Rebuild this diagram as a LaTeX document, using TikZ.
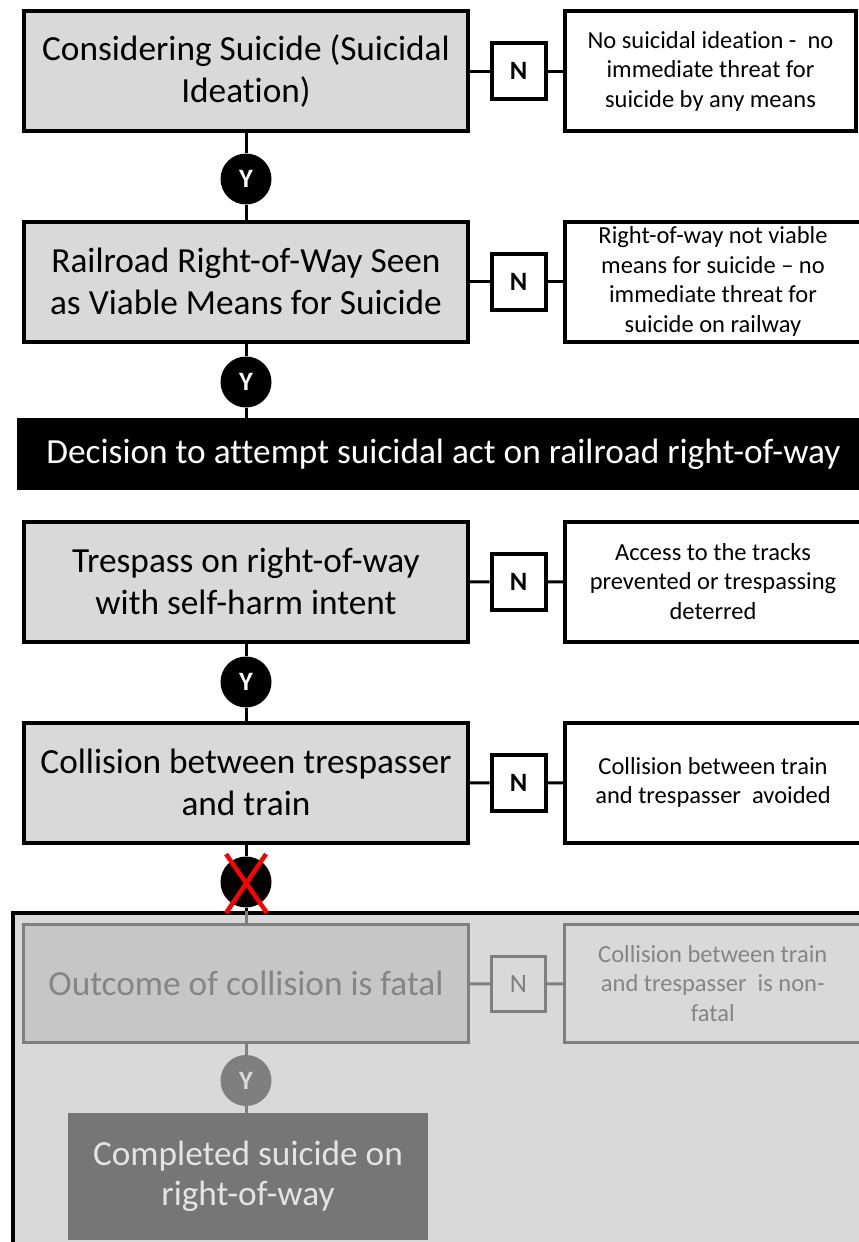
\documentclass[tikz,border=0pt]{standalone}
\usepackage{fontspec}
\setmainfont[Ligatures=NoCommon]{Carlito}
\newcommand\mybigtxt{\fontsize{35.3}{42}\selectfont}
\newcommand\mysmalltxt{\fontsize{24.5}{29.5}\selectfont}
\newcommand\myletter{\fontsize{26.5}{30}\selectfont\bfseries}
\definecolor{boxfill}{HTML}{D9D9D9}
\definecolor{fadefill}{HTML}{C6C6C6}
\definecolor{fadeline}{HTML}{7F7F7F}
\definecolor{fadetext}{HTML}{858585}
\definecolor{darkfill}{HTML}{767676}
\definecolor{lighttext}{HTML}{E4E4E4}
\definecolor{crossred}{HTML}{FF0000}
\tikzset{
  mainbox/.style={draw=black, line width=4pt, fill=boxfill, minimum width=444pt, minimum height=120pt, inner sep=0pt, align=center, font=\mybigtxt},
  rbox/.style={draw=black, line width=4pt, fill=white, minimum height=120pt, inner sep=0pt, align=center, font=\mysmalltxt},
  nbox/.style={draw=black, line width=4pt, fill=white, minimum width=54pt, minimum height=56pt, inner sep=0pt, font=\myletter},
  ycirc/.style={circle, fill=black, minimum size=51pt, inner sep=0pt, text=white, font=\myletter},
  link/.style={line width=3pt, draw=black},
  fadelink/.style={line width=3pt, draw=fadeline},
  fadebox/.style={draw=fadeline, line width=3pt, fill=fadefill, minimum width=445pt, minimum height=118pt, inner sep=0pt, align=center, font=\mybigtxt, text=fadetext},
  fadenbox/.style={draw=fadeline, line width=3pt, fill=boxfill, minimum width=54pt, minimum height=55pt, inner sep=0pt, font=\fontsize{26.5}{30}\selectfont, text=fadeline},
  faderbox/.style={draw=fadeline, line width=3pt, fill=boxfill, minimum height=118pt, inner sep=0pt, align=center, font=\mysmalltxt, text=fadetext},
  fadecirc/.style={circle, fill=fadeline, minimum size=51pt, inner sep=0pt, text=boxfill, font=\myletter},
}
\begin{document}
\begin{tikzpicture}[x=1pt,y=-1pt]
\useasboundingbox (0,0) rectangle (859,1242);
\clip (0,0) rectangle (859,1242);
\fill[white] (0,0) rectangle (859,1242);

% row 1
\node[mainbox] (b1) at (246,71) {Considering Suicide (Suicidal\\Ideation)};
\node[nbox] (n1) at (518.5,71) {N};
\node[rbox, minimum width=291pt] (r1) at (710.5,71) {No suicidal ideation - \ no\\immediate threat for\\suicide by any means};
\node[ycirc] (y1) at (246,179) {Y};

% row 2
\node[mainbox] (b2) at (246,281.5) {Railroad Right-of-Way Seen\\as Viable Means for Suicide};
\node[nbox] (n2) at (518.5,281.5) {N};
\node[rbox, minimum width=296pt] (r2) at (713,281.5) {Right-of-way not viable\\means for suicide -- no\\immediate threat for\\suicide on railway};
\node[ycirc] (y2) at (246,382) {Y};

% decision bar
\node[fill=black, minimum width=853pt, minimum height=72pt, inner sep=0pt, text=white, font=\mybigtxt] (bar) at (443.5,454) {Decision to attempt suicidal act on railroad right-of-way};

% row 3
\node[mainbox] (b3) at (246,581.5) {Trespass on right-of-way\\with self-harm intent};
\node[nbox] (n3) at (518.5,582) {N};
\node[rbox, minimum width=296pt] (r3) at (713,581.5) {Access to the tracks\\prevented or trespassing\\deterred};
\node[ycirc] (y3) at (246,682) {Y};

% row 4
\node[mainbox] (b4) at (246,782.5) {Collision between trespasser\\and train};
\node[nbox] (n4) at (518.5,783) {N};
\node[rbox, minimum width=296pt] (r4) at (713,782.5) {Collision between train\\and trespasser \ avoided};
\node[ycirc] (x1) at (246,882) {};

% connectors top part
\draw[link] (b1) -- (y1);
\draw[link] (y1) -- (b2);
\draw[link] (b2) -- (y2);
\draw[link] (y2) -- (y2 |- bar.north);
\draw[link] (b3) -- (y3);
\draw[link] (y3) -- (b4);
\draw[link] (b4) -- (x1);
\draw[link] (b1) -- (n1);
\draw[link] (n1) -- (r1);
\draw[link] (b2) -- (n2);
\draw[link] (n2) -- (r2);
\draw[link] (b3) -- (n3);
\draw[link] (n3) -- (r3);
\draw[link] (b4) -- (n4);
\draw[link] (n4) -- (r4);

% greyed-out panel
\node[draw=black, line width=4pt, fill=boxfill, minimum width=877pt, minimum height=390pt, inner sep=0pt] (panel) at (451,1107.5) {};
\coordinate (ptop) at (x1 |- panel.north);
\draw[link] (x1) -- (ptop);

\node[fadebox] (b5) at (246,983.5) {Outcome of collision is fatal};
\node[fadenbox] (n5) at (518.5,984) {N};
\node[faderbox, minimum width=296.5pt] (r5) at (712.75,983.5) {Collision between train\\and trespasser \ is non-\\fatal};
\node[fadecirc] (y5) at (246,1080.5) {Y};
\node[fill=darkfill, minimum width=360pt, minimum height=127pt, inner sep=0pt, align=center, text=lighttext, font=\fontsize{35.3}{40}\selectfont] (b6) at (248,1176.5) {Completed suicide on\\right-of-way};

\draw[fadelink] (ptop) -- (b5);
\draw[fadelink] (b5) -- (y5);
\draw[fadelink] (y5) -- (b6.north -| y5);
\draw[fadelink] (b5) -- (n5);
\draw[fadelink] (n5) -- (r5);

% red cross over the collision circle
\draw[crossred, line width=4.5pt] ([shift={(-20,-28)}]x1.center) -- ([shift={(21,31)}]x1.center);
\draw[crossred, line width=4.5pt] ([shift={(20,-28)}]x1.center) -- ([shift={(-20,31)}]x1.center);
\end{tikzpicture}
\end{document}
